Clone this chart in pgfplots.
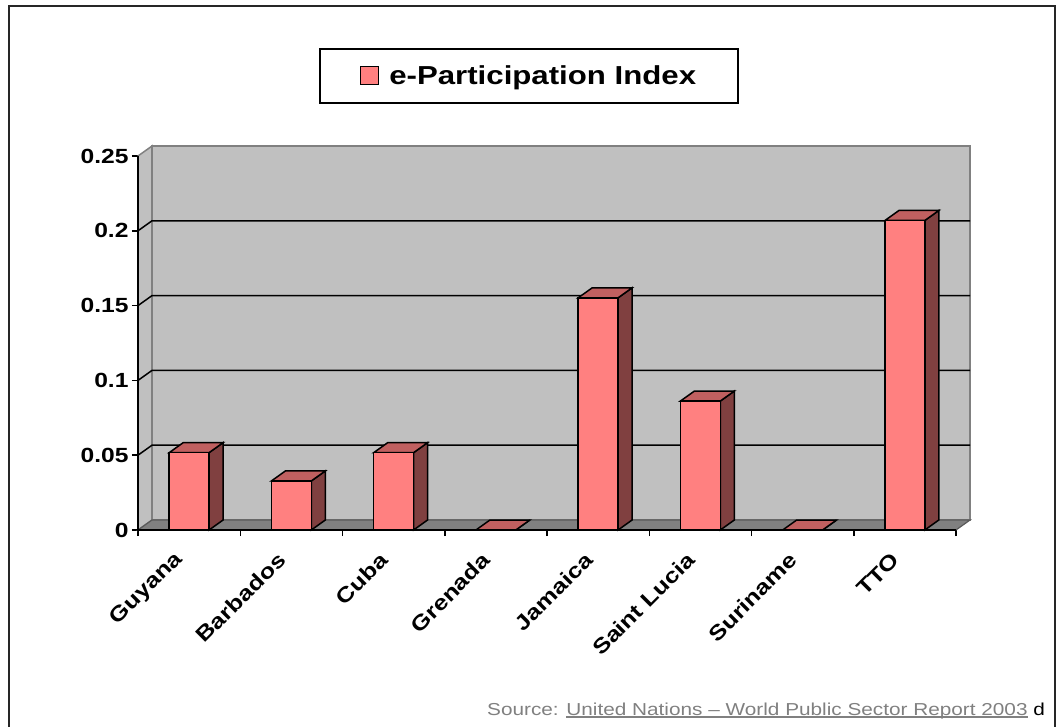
\documentclass[border=0pt]{standalone}
\usepackage{pgfplots}
\usepackage{pgfplotstable}
\pgfplotsset{compat=1.18}
\usepackage{fontspec}
\setmainfont{Liberation Sans}[FakeStretch=1.2]

\definecolor{barfront}{HTML}{FF8080}
\definecolor{barside}{HTML}{804040}
\definecolor{bartop}{HTML}{C06060}
\definecolor{wallc}{HTML}{C0C0C0}
\definecolor{floorc}{HTML}{808080}
\definecolor{edgec}{HTML}{808080}
\definecolor{srcgray}{HTML}{808080}

\newcommand\myul[1]{\setbox0\hbox{#1}\rlap{\rule[-3pt]{\wd0}{1.6pt}}\box0\relax}

\pgfplotstableread{
x v
0.5 0.0517
1.5 0.0328
2.5 0.0517
3.5 0
4.5 0.1552
5.5 0.0862
6.5 0
7.5 0.2069
}\datatable

\begin{document}
\begin{tikzpicture}[x=1pt,y=1pt]
\useasboundingbox (0,0) rectangle (1057,726);
\begin{axis}[
  scale only axis, width=818pt, height=374pt,
  at={(138pt,196pt)}, anchor=south west,
  xmin=0, xmax=8, ymin=0, ymax=0.25,
  enlargelimits=false,
  clip=false,
  axis line style={draw=none},
  tick pos=left,
  tick align=outside,
  major tick length=6pt,
  tick style={black, line width=1.5pt},
  xtick={0,1,...,8}, xticklabels={},
  extra x ticks={0.5,1.5,2.5,3.5,4.5,5.5,6.5,7.5},
  extra x tick labels={Guyana,Barbados,Cuba,Grenada,Jamaica,Saint Lucia,Suriname,TTO},
  extra x tick style={major tick length=0pt, tick label style={font=\fontsize{21}{25}\selectfont\bfseries, xshift=-7pt, yshift=-24pt, rotate=45, anchor=east}},
  ytick={0,0.05,0.1,0.15,0.2,0.25},
  yticklabels={0,0.05,0.1,0.15,0.2,0.25},
  yticklabel style={font=\fontsize{20.5}{24}\selectfont\bfseries},
  legend style={at={(0.478,1.214)}, anchor=center, draw=black, line width=2pt,
    inner xsep=40pt, inner ysep=15pt,
    font=\fontsize{26}{30}\selectfont\bfseries, cells={anchor=west}},
  legend image code/.code={\draw[fill=barfront, draw=black, line width=1pt] (0pt,-9pt) rectangle (18pt,9pt); \path[draw=none, fill=none] (0pt,0pt) rectangle (27pt,0pt);},
]
% walls and floor
\fill[wallc, draw=edgec, line width=1.5pt] (axis cs:0,0) -- (axis cs:0.137,0.00668) -- (axis cs:0.137,0.25668) -- (axis cs:0,0.25) -- cycle;
\fill[wallc, draw=edgec, line width=1.5pt] (axis cs:0.137,0.00668) rectangle (axis cs:8.137,0.25668);
\fill[floorc, draw=edgec!70!black, line width=1.2pt] (axis cs:0,0) -- (axis cs:0.137,0.00668) -- (axis cs:8.137,0.00668) -- (axis cs:8,0) -- cycle;
% gridlines
\draw[black, line width=1.5pt] (axis cs:0,0.05) -- (axis cs:0.137,0.05668) -- (axis cs:8.137,0.05668);
\draw[black, line width=1.5pt] (axis cs:0,0.1) -- (axis cs:0.137,0.10668) -- (axis cs:8.137,0.10668);
\draw[black, line width=1.5pt] (axis cs:0,0.15) -- (axis cs:0.137,0.15668) -- (axis cs:8.137,0.15668);
\draw[black, line width=1.5pt] (axis cs:0,0.2) -- (axis cs:0.137,0.20668) -- (axis cs:8.137,0.20668);
% bar side and top faces
\pgfplotsinvokeforeach{0,...,7}{
  \pgfplotstablegetelem{#1}{v}\of\datatable
  \pgfmathsetmacro\vv{\pgfplotsretval}
  \pgfmathsetmacro\xl{#1+0.5-0.195}
  \pgfmathsetmacro\xr{#1+0.5+0.195}
  \pgfmathsetmacro\xlb{\xl+0.137}
  \pgfmathsetmacro\xrb{\xr+0.137}
  \pgfmathsetmacro\vb{\vv+0.00668}
  \edef\temp{\noexpand\addplot[forget plot, fill=barside, draw=black, line width=1.5pt] coordinates {(\xr,0) (\xrb,0.00668) (\xrb,\vb) (\xr,\vv)} -- cycle;
  \noexpand\addplot[forget plot, fill=bartop, draw=black, line width=1.5pt] coordinates {(\xl,\vv) (\xlb,\vb) (\xrb,\vb) (\xr,\vv)} -- cycle;}
  \temp
}
% front faces
\addplot[ybar, bar width=0.39, fill=barfront, draw=black, line width=1.5pt] table[x=x, y=v] {\datatable};
\addlegendentry{e-Participation Index}
% front axis lines
\draw[black, line width=1.5pt] (axis cs:0,0.25) -- (axis cs:0,0) -- (axis cs:8,0);
\end{axis}
\node[anchor=base west, inner sep=0pt, text=srcgray, font=\fontsize{17.3}{20}\selectfont] at (487,11) {Source: \myul{United Nations – World Public Sector Report 2003} \textcolor{black}{d}};
\draw[line width=2pt, black!85] (9,-20) -- (9,720) -- (1055,720) -- (1055,-20);
\end{tikzpicture}
\end{document}
